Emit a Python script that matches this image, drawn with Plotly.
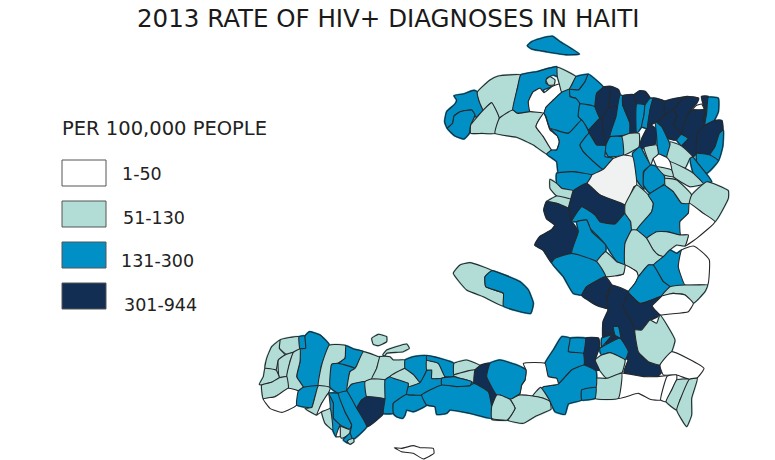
import plotly.graph_objects as go

title = "2013 RATE OF HIV+ DIAGNOSES IN HAITI"
legend_title = "PER 100,000 PEOPLE"
legend_labels = ["1-50", "51-130", "131-300", "301-944"]
class_colors = {"low": "#ffffff", "mint": "#b2ddd6", "mid": "#0090c6", "top": "#122f53", "none": "#f0f1f1"}

north_origin = (440, 30)
north = [
    ("mid", [(262,47),(275,35),(300,26),(337,19),(360,35),(418,72),(380,74),(320,65),(275,57)]),
    ("mid", [(42,197),(70,192),(102,181),(112,186),(118,215),(130,240),(108,262),(95,240),(60,245),(42,258),(38,280),(22,295),(14,275),(20,245),(45,222),(50,210)]),
    ("mid", [(42,258),(60,245),(95,240),(105,255),(92,285),(88,310),(72,327),(45,318),(22,295),(38,280)]),
    ("mint", [(112,186),(150,150),(175,138),(242,135),(232,175),(218,240),(178,265),(155,218),(130,240),(118,215)]),
    ("mint", [(130,240),(155,218),(178,265),(165,310),(125,310),(92,310),(92,285),(108,265)]),
    ("mid", [(242,135),(290,125),(350,110),(357,125),(352,140),(340,135),(320,145),(318,160),(335,170),(310,180),(312,188),(300,175),(280,185),(265,215),(270,245),(232,250),(218,240),(232,175)]),
    ("mint", [(318,150),(330,140),(345,150),(342,165),(325,165)]),
    ("low", [(265,215),(280,185),(300,175),(312,188),(335,170),(358,162),(365,187),(340,210),(318,232),(312,250),(270,245)]),
    ("mint", [(178,265),(218,240),(232,250),(270,245),(312,250),(300,265),(288,290),(310,320),(335,360),(320,372),(280,345),(230,322),(165,310)]),
    ("low", [(312,250),(320,270),(330,300),(352,318),(358,335),(350,360),(335,360),(310,320),(288,290),(300,265)]),
    ("mint", [(352,112),(408,140),(395,165),(390,175),(378,185),(365,187),(358,162),(352,140)]),
    ("mid", [(408,140),(445,133),(435,155),(415,180),(388,178),(395,165)]),
    ("mid", [(445,133),(490,172),(470,190),(465,230),(420,222),(408,205),(390,200),(388,178),(415,180),(435,155)]),
    ("mid", [(365,187),(388,178),(390,200),(408,205),(420,222),(415,260),(425,270),(385,310),(330,295),(318,260),(312,250),(318,232),(340,210)]),
    ("mid", [(420,222),(465,230),(480,265),(447,300),(425,270),(415,260)]),
    ("top", [(490,172),(512,170),(510,205),(505,235),(487,265),(480,265),(465,230),(470,190)]),
    ("top", [(512,170),(535,180),(540,195),(533,228),(505,235),(510,205)]),
    ("top", [(487,265),(505,235),(533,228),(528,260),(510,320),(497,347),(488,300)]),
    ("top", [(480,265),(487,265),(488,300),(497,347),(470,345),(447,310),(447,300)]),
    ("mid", [(540,195),(548,198),(548,225),(570,280),(570,310),(510,320),(528,260),(533,228)]),
    ("top", [(548,198),(583,195),(590,222),(590,310),(570,310),(570,280),(548,225)]),
    ("top", [(583,195),(600,183),(615,185),(630,205),(615,225),(590,222)]),
    ("mid", [(590,222),(615,225),(612,255),(605,290),(590,310)]),
    ("mid", [(615,225),(630,205),(640,205),(630,240),(622,295),(605,290),(612,255)]),
    ("top", [(640,205),(675,215),(675,255),(660,270),(630,285),(622,295),(630,240)]),
    ("top", [(675,215),(740,200),(725,210),(700,240),(675,255)]),
    ("top", [(740,200),(775,205),(770,218),(755,235),(745,250),(725,312),(700,285),(710,260),(700,240),(725,210)]),
    ("top", [(660,270),(675,255),(700,240),(710,260),(700,285),(725,312),(710,330),(670,320),(650,280)]),
    ("mid", [(725,312),(745,325),(725,348),(710,330)]),
    ("top", [(745,250),(758,240),(795,240),(790,270),(795,285),(772,310),(770,370),(758,380),(725,348),(745,325),(725,312)]),
    ("top", [(785,200),(805,200),(800,230),(795,285),(790,270),(795,240)]),
    ("low", [(758,238),(770,226),(785,222),(792,238)]),
    ("mid", [(805,202),(835,205),(835,245),(822,272),(795,285),(800,250)]),
    ("top", [(795,285),(822,272),(845,272),(848,300),(838,310),(825,350),(810,375),(770,370),(772,310)]),
    ("mid", [(838,310),(850,300),(848,350),(835,392),(810,375),(825,350)]),
    ("mid", [(770,370),(810,375),(835,392),(800,430),(770,395)]),
    ("mid", [(750,385),(758,380),(770,395),(815,455),(790,462),(760,430)]),
    ("top", [(597,350),(622,295),(630,285),(650,300),(645,340),(630,360)]),
    ("mid", [(647,275),(665,290),(680,320),(690,345),(680,382),(655,372),(650,320)]),
    ("mint", [(690,335),(725,348),(758,380),(750,385),(735,415),(690,395),(680,382),(690,345)]),
    ("mint", [(690,395),(735,415),(760,430),(790,462),(750,470),(700,440)]),
    ("low", [(640,385),(655,372),(680,382),(690,395),(695,420),(665,425),(650,410)]),
    ("mid", [(578,370),(600,350),(620,385),(632,405),(610,425),(612,478),(590,450),(580,400)]),
    ("mint", [(612,352),(650,345),(655,372),(640,385),(632,405)]),
    ("mid", [(632,405),(650,410),(672,435),(675,460),(630,490),(610,465),(612,425)]),
    ("mint", [(650,410),(695,420),(700,440),(672,435)]),
    ("mint", [(545,320),(570,310),(597,310),(597,350),(550,375)]),
    ("mid", [(497,347),(510,320),(545,320),(550,375),(505,380),(495,360)]),
    ("mid", [(320,372),(335,360),(350,360),(358,335),(352,318),(330,295),(385,310),(425,270),(447,310),(420,345),(430,365),(490,418),(455,435),(395,425),(355,430),(350,395)]),
    ("mid", [(420,345),(447,310),(470,345),(497,347),(495,380),(520,385),(490,418),(430,365)]),
]

central_origin = (440, 170)
central = [
    ("none", [(455,15),(490,-2),(520,-35),(550,-45),(578,-40),(590,45),(582,50),(555,105),(480,75),(440,40)]),
    ("mid", [(350,10),(395,5),(455,15),(440,40),(400,62),(365,55),(350,40)]),
    ("mint", [(330,28),(350,40),(365,55),(400,62),(392,88),(350,78),(330,55)]),
    ("mint", [(320,95),(350,78),(392,88),(385,115),(350,100)]),
    ("top", [(400,62),(440,40),(480,75),(555,105),(555,130),(525,162),(480,155),(465,135),(425,110),(395,155),(385,115),(392,88)]),
    ("top", [(312,120),(320,95),(350,100),(385,115),(395,155),(415,185),(395,250),(345,265),(335,278),(310,240),(285,225),(300,200),(335,180),(345,165),(320,145)]),
    ("mid", [(395,155),(425,110),(465,135),(480,155),(525,162),(555,130),(572,155),(575,180),(555,220),(555,285),(530,275),(497,225),(470,195),(450,175),(440,150),(410,155)]),
    ("mid", [(410,155),(440,150),(455,185),(497,225),(497,245),(470,275),(395,250),(415,185)]),
    ("mint", [(555,105),(590,45),(625,75),(640,100),(635,125),(590,180),(575,180),(572,155),(555,130)]),
    ("mid", [(625,75),(675,45),(700,65),(725,100),(748,100),(745,130),(720,155),(722,195),(680,185),(650,185),(620,205),(590,180),(635,125),(640,100)]),
    ("mint", [(675,25),(710,30),(755,75),(748,100),(725,100),(700,65),(675,45)]),
    ("mint", [(755,75),(800,35),(865,62),(865,85),(825,155),(790,130),(748,100)]),
    ("low", [(748,100),(790,130),(825,155),(770,205),(735,228),(745,195),(722,195),(720,155),(745,130)]),
    ("mint", [(620,205),(650,185),(680,185),(722,195),(745,195),(735,228),(710,225),(690,240),(670,260),(655,255),(640,240)]),
    ("mint", [(575,180),(590,180),(620,205),(640,240),(655,255),(670,260),(640,285),(625,285),(595,320),(590,305),(555,285),(555,220)]),
    ("mid", [(670,260),(690,240),(710,250),(725,240),(715,290),(735,345),(690,350),(670,335),(640,285)]),
    ("low", [(725,240),(760,228),(785,245),(808,270),(803,345),(770,345),(735,345),(715,290)]),
    ("low", [(497,320),(550,312),(555,285),(590,305),(595,320),(585,340),(565,365),(515,345)]),
    ("mint", [(470,275),(497,245),(530,275),(555,285),(550,312),(497,320)]),
    ("mid", [(335,278),(345,265),(395,250),(470,275),(497,320),(440,350),(425,375),(400,370),(370,320)]),
    ("top", [(425,375),(440,350),(497,320),(515,345),(500,370),(505,415),(470,405),(430,380)]),
    ("mid", [(595,320),(625,285),(640,285),(670,335),(690,350),(665,378),(600,400),(565,365),(585,340)]),
    ("mint", [(690,350),(735,345),(770,345),(803,345),(795,365),(760,400),(735,375),(700,370),(665,378)]),
    ("low", [(665,378),(700,370),(735,375),(760,400),(745,425),(690,432),(660,435),(635,405)]),
    ("mint", [(40,310),(60,285),(90,278),(155,302),(135,320),(137,350),(190,370),(190,408),(130,380),(80,360)]),
    ("mid", [(155,302),(240,335),(265,360),(280,400),(272,430),(190,408),(190,370),(137,350),(135,320)]),
]

south_east_origin = (500, 310)
south_east = [
    ("top", [(335,-75),(385,-55),(370,-10),(400,45),(405,60),(415,125),(445,155),(480,165),(485,185),(470,200),(430,200),(372,185),(385,150),(345,125),(310,90),(310,35),(325,0),(320,-25),(325,-50)]),
    ("top", [(385,-50),(420,-18),(485,-42),(455,-10),(480,15),(450,30),(425,60),(405,60),(400,45),(370,-10)]),
    ("mid", [(340,50),(355,50),(362,85),(345,75)]),
    ("top", [(312,65),(340,75),(350,90),(320,80)]),
    ("mid", [(305,85),(335,75),(305,110)]),
    ("mid", [(300,115),(360,85),(385,125),(375,150),(330,128),(305,135),(300,125)]),
    ("mint", [(285,150),(305,135),(330,128),(375,150),(365,190),(320,205),(298,180)]),
    ("mint", [(405,60),(425,60),(450,30),(470,40),(480,15),(525,90),(515,125),(480,165),(445,155),(415,125)]),
    ("low", [(515,125),(612,175),(590,205),(568,208),(530,195),(490,195),(485,185),(480,165)]),
    ("low", [(358,190),(430,200),(470,200),(502,198),(482,270),(450,268),(415,250),(355,265)]),
    ("low", [(502,198),(530,195),(530,210),(515,240),(498,275),(482,270)]),
    ("mint", [(288,205),(320,205),(365,190),(355,265),(285,265)]),
    ("mint", [(498,275),(515,240),(530,210),(568,208),(540,270),(530,300)]),
    ("mint", [(568,208),(592,205),(575,265),(575,315),(560,350),(530,300),(540,270)]),
    ("top", [(256,85),(295,85),(298,110),(285,150),(298,180),(275,180),(252,165),(250,130)]),
    ("mid", [(210,85),(256,85),(250,130),(205,125)]),
    ("mid", [(185,80),(210,85),(205,125),(250,130),(252,165),(215,180),(175,222),(170,205),(145,200),(135,160),(160,120)]),
    ("mid", [(175,222),(215,180),(252,165),(288,183),(288,232),(245,240),(245,270),(205,282),(195,313),(165,305),(150,275),(122,232),(130,230)]),
    ("mid", [(245,240),(288,232),(285,265),(245,270)]),
    ("low", [(70,160),(135,160),(145,200),(170,205),(175,222),(130,230),(98,258),(60,255),(65,225),(75,210),(78,180)]),
    ("mint", [(98,258),(122,232),(150,275),(130,265)]),
    ("mint", [(60,255),(98,258),(130,265),(150,275),(153,298),(108,318),(70,340),(22,330),(45,295),(30,268)]),
    ("mint", [(0,255),(30,268),(45,295),(22,330),(-25,328),(-10,285)]),
]

south_west_origin = (250, 325)
south_west = [
    ("mint", [(90,45),(147,35),(150,72),(110,88),(88,70)]),
    ("mid", [(147,35),(165,33),(167,70),(150,72)]),
    ("mid", [(165,33),(178,20),(210,30),(238,60),(215,120),(205,182),(160,187),(140,155),(150,110),(150,72),(167,70)]),
    ("mint", [(65,65),(90,45),(88,70),(105,90),(85,105),(78,135),(45,130),(50,100)]),
    ("mint", [(105,90),(130,82),(120,110),(110,155),(88,158),(85,105)]),
    ("mint", [(130,82),(150,72),(150,110),(140,155),(160,187),(145,198),(115,190),(110,155),(120,110)]),
    ("mint", [(45,130),(78,135),(88,158),(65,172),(35,180),(28,178),(40,155)]),
    ("mint", [(35,180),(65,172),(88,158),(110,155),(115,190),(75,215),(40,222)]),
    ("low", [(40,222),(75,215),(115,190),(145,198),(140,240),(115,255),(95,262),(60,250)]),
    ("mid", [(160,187),(205,182),(195,215),(185,248),(140,240),(145,198)]),
    ("mint", [(238,60),(288,62),(285,100),(265,115),(245,118),(240,187),(205,182),(215,120)]),
    ("mint", [(205,182),(240,187),(235,205),(215,235),(200,270),(165,250),(185,248),(195,215)]),
    ("mid", [(288,62),(310,72),(340,80),(320,122),(315,130),(265,115),(285,100)]),
    ("mid", [(245,118),(265,115),(315,130),(300,140),(290,198),(265,205),(240,187)]),
    ("mint", [(340,80),(385,95),(390,95),(380,130),(365,162),(345,170),(305,178),(290,198),(300,140),(315,130),(320,122)]),
    ("mint", [(390,95),(420,95),(430,105),(465,105),(465,130),(420,155),(405,165),(365,162),(380,130)]),
    ("mint", [(365,40),(385,28),(410,35),(410,50),(385,62),(370,58)]),
    ("mint", [(398,90),(410,75),(470,57),(478,70),(460,80),(410,85),(405,92)]),
    ("mid", [(290,198),(305,178),(345,170),(350,215),(335,225),(320,250)]),
    ("mint", [(345,170),(365,162),(405,165),(405,222),(350,215)]),
    ("top", [(335,225),(350,215),(405,222),(400,265),(350,305),(320,250)]),
    ("mid", [(405,165),(420,155),(475,175),(470,208),(430,235),(430,265),(400,265),(405,222)]),
    ("mid", [(430,235),(470,208),(515,210),(530,240),(490,260),(470,255),(465,270),(458,280),(440,275),(430,265)]),
    ("mid", [(470,208),(475,185),(510,172),(527,135),(545,135),(545,160),(575,160),(575,180),(515,210)]),
    ("mint", [(420,155),(465,130),(490,148),(510,172),(475,185),(475,175)]),
    ("mid", [(465,105),(490,95),(530,92),(530,135),(510,172),(490,148),(465,130)]),
    ("mint", [(530,105),(565,115),(585,155),(575,160),(545,160),(545,135),(530,135)]),
    ("mid", [(530,92),(612,115),(612,155),(585,155),(565,115),(530,105)]),
    ("mint", [(612,115),(650,105),(690,122),(675,135),(612,150)]),
    ("mint", [(612,150),(675,135),(672,175),(665,170),(630,160),(612,155)]),
    ("mid", [(575,160),(612,155),(630,160),(665,170),(660,182),(620,185),(575,180)]),
    ("top", [(690,122),(720,115),(710,155),(740,210),(725,245),(715,200),(672,175),(675,135)]),
    ("mid", [(515,210),(575,180),(620,185),(660,182),(672,175),(715,200),(725,245),(725,280),(660,265),(600,255),(590,265),(560,268),(555,245),(530,240)]),
    ("mid", [(720,115),(750,105),(800,120),(828,135),(825,165),(815,180),(810,205),(780,223),(750,210),(740,210),(710,155)]),
    ("mint", [(740,210),(750,210),(780,223),(795,250),(772,285),(725,280),(725,245)]),
    ("mid", [(235,205),(265,205),(285,260),(305,300),(300,312),(270,300),(250,280),(250,235)]),
    ("mid", [(265,205),(290,198),(320,250),(350,305),(307,345),(300,325),(305,300),(285,260)]),
    ("mid", [(235,205),(250,235),(250,280),(270,300),(258,335),(248,315),(240,265)]),
    ("mint", [(215,260),(240,250),(248,315),(225,295)]),
    ("low", [(200,270),(215,235),(235,205),(240,250),(215,260)]),
    ("mint", [(270,305),(300,315),(298,328),(275,340),(270,330)]),
    ("mid", [(283,340),(300,325),(307,345),(295,355),(280,345)]),
    ("mint", [(295,345),(310,340),(312,350),(300,358),(292,350)]),
    ("low", [(258,335),(270,300),(270,335)]),
    ("low", [(433,368),(455,370),(490,362),(510,368),(550,370),(552,385),(520,402),(490,385),(455,380)]),
]

sheets = [(north_origin, north), (central_origin, central),
          (south_east_origin, south_east), (south_west_origin, south_west)]


def outline(origin, pts):
    xs = [origin[0] + p[0] / 3 for p in pts] + [origin[0] + pts[0][0] / 3]
    ys = [origin[1] + p[1] / 3 for p in pts] + [origin[1] + pts[0][1] / 3]
    return xs, ys


fig = go.Figure()

# first pass closes the small gaps between neighbouring communes
for origin, shapes in sheets:
    for name, pts in shapes:
        if name == "low":
            continue
        xs, ys = outline(origin, pts)
        fig.add_trace(go.Scatter(x=xs, y=ys, mode="lines", fill="toself", fillcolor=class_colors[name],
                                 line=dict(color=class_colors[name], width=2, shape="spline", smoothing=0.4),
                                 showlegend=False, hoverinfo="skip"))

for origin, shapes in sheets:
    for name, pts in shapes:
        xs, ys = outline(origin, pts)
        fig.add_trace(go.Scatter(x=xs, y=ys, mode="lines", fill="toself", fillcolor=class_colors[name],
                                 line=dict(color="#26292c", width=1.1, shape="spline", smoothing=0.4),
                                 showlegend=False, hoverinfo="skip"))

# hand made legend, swatches + labels
swatch_tops = [160, 201, 242, 283]
label_x = [120, 121, 119, 122]
label_y = [174, 218, 261, 305]
swatch_colors = [class_colors["low"], class_colors["mint"], class_colors["mid"], class_colors["top"]]
for top, lx, ly, lab, col in zip(swatch_tops, label_x, label_y, legend_labels, swatch_colors):
    fig.add_shape(type="rect", x0=62, x1=106, y0=top, y1=top + 26, fillcolor=col,
                  line=dict(color="#555555", width=1))
    fig.add_annotation(x=lx, y=ly, text=lab, showarrow=False, xanchor="left",
                       font=dict(family="DejaVu Sans", size=17.5, color="#222222"))

fig.add_annotation(x=60, y=128, text=legend_title, showarrow=False, xanchor="left",
                   font=dict(family="DejaVu Sans", size=19.5, color="#222222"))
fig.add_annotation(x=387.5, y=18, text=title, showarrow=False,
                   font=dict(family="DejaVu Sans", size=24.5, color="#1a1a1a"))

fig.update_xaxes(range=[0, 775], visible=False)
fig.update_yaxes(range=[460, 0], visible=False)
fig.update_layout(width=775, height=460, margin=dict(l=0, r=0, t=0, b=0),
                  plot_bgcolor="white", paper_bgcolor="white")

# the page body has an 8px margin by default
fig.write_html("out.html", config=dict(displayModeBar=False),
               post_script="document.body.style.margin='0';")
